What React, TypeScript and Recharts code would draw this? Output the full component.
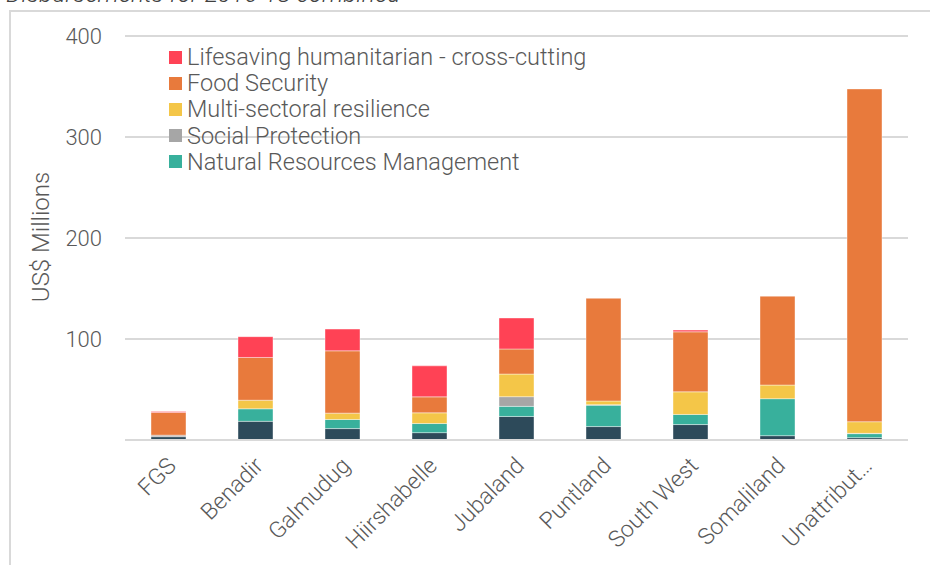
import React from 'react';
import { BarChart, Bar, XAxis, YAxis, CartesianGrid } from 'recharts';

const regions = ['FGS', 'Benadir', 'Galmudug', 'Hiirshabelle', 'Jubaland', 'Puntland', 'South West', 'Somaliland', 'Unattribut…'];
const otherSectors = [3.3, 18.5, 11.3, 7.3, 23.3, 13.3, 15.3, 4.3, 2.3];
const naturalResources = [0, 12.4, 9, 9, 10, 21.2, 10, 36.6, 4];
const socialProtection = [1.5, 0, 0, 0, 9.6, 0.5, 0, 0, 0.3];
const multiSectoral = [0, 8.5, 6.3, 10.6, 22.4, 3.6, 22.4, 13.5, 11.5];
const foodSecurity = [22.4, 42.3, 61.7, 15.8, 24.8, 101.7, 59.4, 88, 329.5];
const lifesaving = [1, 20.6, 21.5, 30.7, 30.7, 0, 1.7, 0, 0];
const yTicks = [100, 200, 300, 400];

const series = [
  { key: 'other', name: 'Other', color: '#2D4A5A', values: otherSectors, legend: false },
  { key: 'nrm', name: 'Natural Resources Management', color: '#38B09C', values: naturalResources, legend: true },
  { key: 'social', name: 'Social Protection', color: '#A6A6A6', values: socialProtection, legend: true },
  { key: 'multi', name: 'Multi-sectoral resilience', color: '#F4C648', values: multiSectoral, legend: true },
  { key: 'food', name: 'Food Security', color: '#E87A3C', values: foodSecurity, legend: true },
  { key: 'life', name: 'Lifesaving humanitarian - cross-cutting', color: '#FF4255', values: lifesaving, legend: true },
];

const data = regions.map((region, i) => {
  const row: Record<string, string | number> = { region };
  series.forEach((s) => (row[s.key] = s.values[i]));
  return row;
});

const FONT = 'Roboto, "Helvetica Neue", Arial, sans-serif';
const TEXT = '#595959';

function XTick(props: any) {
  const { x, y, payload } = props;
  const ax = x + 9;
  const ay = y + 19;
  return (
    <text
      x={ax}
      y={ay}
      transform={`rotate(-45, ${ax}, ${ay})`}
      textAnchor="end"
      fill={TEXT}
      fontSize={23}
      fontWeight={300}
      fontFamily={FONT}
    >
      {payload.value}
    </text>
  );
}

function YTitle() {
  return (
    <text
      x={49}
      y={237}
      transform="rotate(-90, 49, 237)"
      textAnchor="middle"
      fill={TEXT}
      fontSize={24}
      fontWeight={300}
      fontFamily={FONT}
    >
      US$ Millions
    </text>
  );
}

export default function App() {
  const legendItems = series.filter((s) => s.legend).slice().reverse();
  return (
    <div
      style={{
        position: 'fixed',
        left: 0,
        top: 0,
        width: 930,
        height: 565,
        overflow: 'hidden',
        background: '#fff',
        fontFamily: FONT,
      }}
    >
      <style>{'html, body { margin: 0; overflow: hidden; }'}</style>
      <div
        style={{
          position: 'absolute',
          left: 6,
          top: -20,
          fontSize: 24.5,
          lineHeight: '28px',
          fontStyle: 'italic',
          fontWeight: 300,
          color: '#404040',
          whiteSpace: 'nowrap',
        }}
      >
        Disbursements for 2016-18 combined
      </div>
      <div
        style={{
          position: 'absolute',
          left: 9,
          top: 10,
          width: 1000,
          height: 600,
          borderTop: '2px solid #D9D9D9',
          borderLeft: '2px solid #D9D9D9',
        }}
      />
      <div style={{ position: 'absolute', left: 0, top: 0 }}>
        <BarChart
          width={930}
          height={565}
          data={data}
          margin={{ top: 36, right: 22, left: 0, bottom: 0 }}
          barSize={35}
        >
          <CartesianGrid vertical={false} stroke="#D9D9D9" strokeWidth={2} />
          <XAxis
            dataKey="region"
            interval={0}
            height={125}
            tick={<XTick />}
            tickLine={false}
            axisLine={{ stroke: '#D9D9D9', strokeWidth: 2 }}
          />
          <YAxis
            width={125}
            domain={[0, 400]}
            ticks={yTicks}
            axisLine={false}
            tickLine={false}
            tickSize={0}
            tickMargin={23}
            tick={{ fill: TEXT, fontSize: 22, fontWeight: 300, fontFamily: FONT }}
            label={{ content: () => <YTitle /> }}
          />
          {series.map((s) => (
            <Bar
              key={s.key}
              dataKey={s.key}
              name={s.name}
              stackId="a"
              fill={s.color}
              stroke="#fff"
              strokeOpacity={0.5}
              strokeWidth={0.8}
              isAnimationActive={false}
            />
          ))}
        </BarChart>
      </div>
      <div style={{ position: 'absolute', left: 169, top: 44 }}>
        {legendItems.map((s) => (
          <div
            key={s.key}
            style={{ display: 'flex', alignItems: 'center', height: 26.2, whiteSpace: 'nowrap' }}
          >
            <span style={{ width: 13, height: 13, background: s.color, marginRight: 5, flex: 'none' }} />
            <span style={{ fontSize: 23.5, fontWeight: 300, color: TEXT, lineHeight: '26px' }}>{s.name}</span>
          </div>
        ))}
      </div>
    </div>
  );
}
